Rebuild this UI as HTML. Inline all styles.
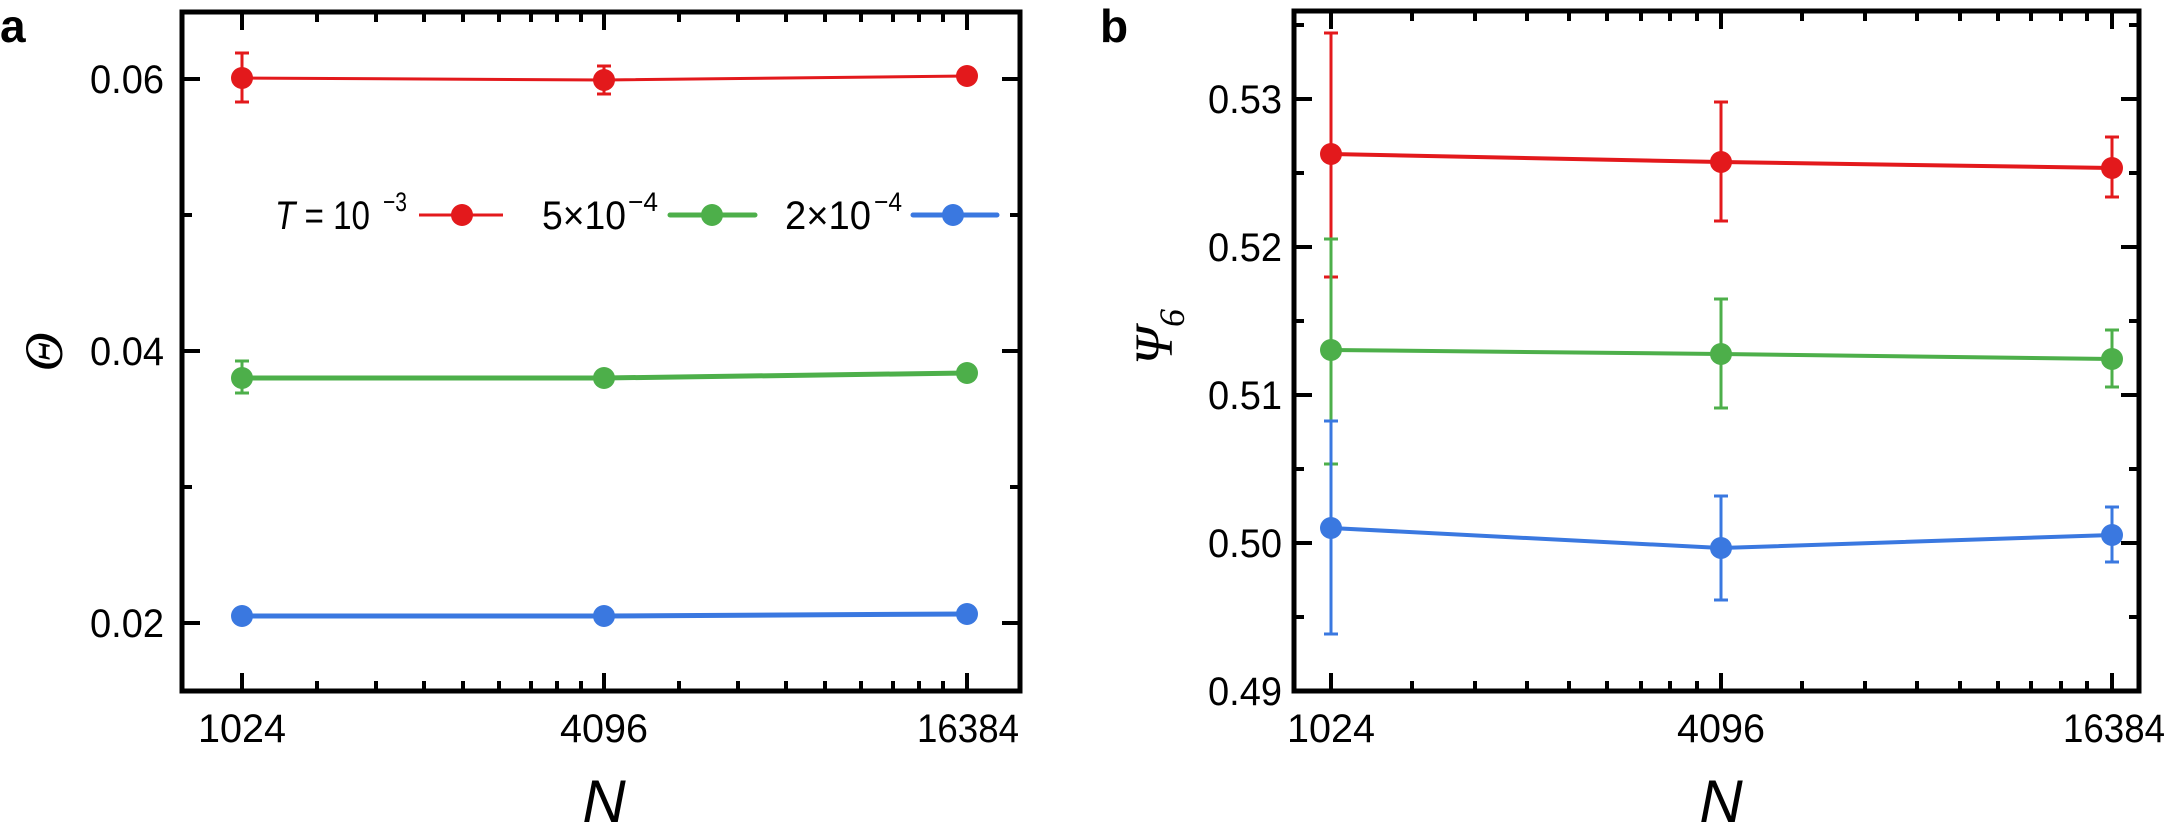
<!DOCTYPE html>
<html><head><meta charset="utf-8"><style>
html,body{margin:0;padding:0;background:#fff;}
svg{display:block;font-family:"Liberation Sans",sans-serif;}
</style></head><body>
<svg width="2167" height="826" viewBox="0 0 2167 826" xmlns="http://www.w3.org/2000/svg">
<!-- Panel a -->
<text x="0" y="42" font-size="46" font-weight="bold">a</text>
<rect x="182" y="12" width="838" height="679" fill="none" stroke="#000" stroke-width="5"/>
<g stroke="#000" stroke-width="4">
<line x1="182" y1="79" x2="200" y2="79"/><line x1="1020" y1="79" x2="1002" y2="79"/>
<line x1="182" y1="351" x2="200" y2="351"/><line x1="1020" y1="351" x2="1002" y2="351"/>
<line x1="182" y1="623" x2="200" y2="623"/><line x1="1020" y1="623" x2="1002" y2="623"/>
<line x1="182" y1="215" x2="192" y2="215"/><line x1="1020" y1="215" x2="1010" y2="215"/>
<line x1="182" y1="487" x2="192" y2="487"/><line x1="1020" y1="487" x2="1010" y2="487"/>
</g>
<g font-size="40">
<text x="90" y="93" textLength="74" lengthAdjust="spacingAndGlyphs">0.06</text>
<text x="90" y="365" textLength="74" lengthAdjust="spacingAndGlyphs">0.04</text>
<text x="90" y="637" textLength="74" lengthAdjust="spacingAndGlyphs">0.02</text>
<text x="198" y="742" textLength="88" lengthAdjust="spacingAndGlyphs">1024</text>
<text x="560" y="742" textLength="88" lengthAdjust="spacingAndGlyphs">4096</text>
<text x="917" y="742" textLength="102" lengthAdjust="spacingAndGlyphs">16384</text>
</g>
<text x="604" y="822" font-size="60" font-style="italic" text-anchor="middle">N</text>
<text transform="translate(62,352) rotate(-90)" font-size="54" font-style="italic" font-family="Liberation Serif, serif" text-anchor="middle">Θ</text>

<g stroke="#e3191c" fill="#e3191c">
<polyline points="242,78 604,80 967,76" fill="none" stroke-width="3"/>
<line x1="242" y1="53" x2="242" y2="102" stroke-width="3"/><line x1="235" y1="53" x2="249" y2="53" stroke-width="3"/><line x1="235" y1="102" x2="249" y2="102" stroke-width="3"/>
<line x1="604" y1="66" x2="604" y2="94" stroke-width="3"/><line x1="597" y1="66" x2="611" y2="66" stroke-width="3"/><line x1="597" y1="94" x2="611" y2="94" stroke-width="3"/>
<circle cx="242" cy="78" r="11" stroke="none"/><circle cx="604" cy="80" r="11" stroke="none"/><circle cx="967" cy="76" r="11" stroke="none"/>
</g>
<g stroke="#4daf4a" fill="#4daf4a">
<polyline points="242,378 604,378 967,373" fill="none" stroke-width="5"/>
<line x1="242" y1="361" x2="242" y2="393" stroke-width="3"/><line x1="235" y1="361" x2="249" y2="361" stroke-width="3"/><line x1="235" y1="393" x2="249" y2="393" stroke-width="3"/>
<circle cx="242" cy="378" r="11" stroke="none"/><circle cx="604" cy="378" r="11" stroke="none"/><circle cx="967" cy="373" r="11" stroke="none"/>
</g>
<g stroke="#3a78e0" fill="#3a78e0">
<polyline points="242,616 604,616 967,614" fill="none" stroke-width="5"/>
<circle cx="242" cy="616" r="11" stroke="none"/><circle cx="604" cy="616" r="11" stroke="none"/><circle cx="967" cy="614" r="11" stroke="none"/>
</g>
<!-- legend -->
<g font-size="40">
<text x="275" y="229" textLength="95" lengthAdjust="spacingAndGlyphs"><tspan font-style="italic">T</tspan> = 10</text>
<text x="383" y="211" font-size="27" textLength="24" lengthAdjust="spacingAndGlyphs">−3</text>
<text x="542" y="229" textLength="84" lengthAdjust="spacingAndGlyphs">5×10</text>
<text x="628" y="211" font-size="27" textLength="30" lengthAdjust="spacingAndGlyphs">−4</text>
<text x="785" y="229" textLength="86" lengthAdjust="spacingAndGlyphs">2×10</text>
<text x="874" y="211" font-size="27" textLength="28" lengthAdjust="spacingAndGlyphs">−4</text>
</g>
<line x1="419" y1="215" x2="503" y2="215" stroke="#e3191c" stroke-width="3"/><circle cx="462" cy="215" r="11" fill="#e3191c"/>
<line x1="670" y1="215" x2="755" y2="215" stroke="#4daf4a" stroke-width="5" stroke-linecap="round"/><circle cx="712" cy="215" r="11" fill="#4daf4a"/>
<line x1="913" y1="215" x2="997" y2="215" stroke="#3a78e0" stroke-width="5" stroke-linecap="round"/><circle cx="953" cy="215" r="11" fill="#3a78e0"/>

<!-- Panel b -->
<text x="1100" y="42" font-size="46" font-weight="bold">b</text>
<rect x="1294" y="11" width="845" height="680" fill="none" stroke="#000" stroke-width="5"/>
<g stroke="#000" stroke-width="4">
<line x1="1294" y1="99" x2="1312" y2="99"/><line x1="2139" y1="99" x2="2121" y2="99"/>
<line x1="1294" y1="247" x2="1312" y2="247"/><line x1="2139" y1="247" x2="2121" y2="247"/>
<line x1="1294" y1="395" x2="1312" y2="395"/><line x1="2139" y1="395" x2="2121" y2="395"/>
<line x1="1294" y1="543" x2="1312" y2="543"/><line x1="2139" y1="543" x2="2121" y2="543"/>
<line x1="1294" y1="25" x2="1304" y2="25"/><line x1="2139" y1="25" x2="2129" y2="25"/>
<line x1="1294" y1="173" x2="1304" y2="173"/><line x1="2139" y1="173" x2="2129" y2="173"/>
<line x1="1294" y1="321" x2="1304" y2="321"/><line x1="2139" y1="321" x2="2129" y2="321"/>
<line x1="1294" y1="469" x2="1304" y2="469"/><line x1="2139" y1="469" x2="2129" y2="469"/>
<line x1="1294" y1="617" x2="1304" y2="617"/><line x1="2139" y1="617" x2="2129" y2="617"/>
</g>
<g font-size="40">
<text x="1208" y="113" textLength="74" lengthAdjust="spacingAndGlyphs">0.53</text>
<text x="1208" y="261" textLength="74" lengthAdjust="spacingAndGlyphs">0.52</text>
<text x="1208" y="409" textLength="74" lengthAdjust="spacingAndGlyphs">0.51</text>
<text x="1208" y="557" textLength="74" lengthAdjust="spacingAndGlyphs">0.50</text>
<text x="1208" y="705" textLength="74" lengthAdjust="spacingAndGlyphs">0.49</text>
<text x="1287" y="742" textLength="88" lengthAdjust="spacingAndGlyphs">1024</text>
<text x="1677" y="742" textLength="88" lengthAdjust="spacingAndGlyphs">4096</text>
<text x="2063" y="742" textLength="102" lengthAdjust="spacingAndGlyphs">16384</text>
</g>
<text x="1721" y="822" font-size="60" font-style="italic" text-anchor="middle">N</text>
<text transform="translate(1172,337) rotate(-90)" font-size="54" font-style="italic" font-family="Liberation Serif, serif" text-anchor="middle">Ψ<tspan font-size="36" dy="12">6</tspan></text>

<g stroke="#e3191c" fill="#e3191c" stroke-width="3">
<polyline points="1331,154 1721,162 2112,168" fill="none" stroke-width="4"/>
<line x1="1331" y1="33" x2="1331" y2="277"/><line x1="1324" y1="33" x2="1338" y2="33"/><line x1="1324" y1="277" x2="1338" y2="277"/>
<line x1="1721" y1="102" x2="1721" y2="221"/><line x1="1714" y1="102" x2="1728" y2="102"/><line x1="1714" y1="221" x2="1728" y2="221"/>
<line x1="2112" y1="137" x2="2112" y2="197"/><line x1="2105" y1="137" x2="2119" y2="137"/><line x1="2105" y1="197" x2="2119" y2="197"/>
<circle cx="1331" cy="154" r="11" stroke="none"/><circle cx="1721" cy="162" r="11" stroke="none"/><circle cx="2112" cy="168" r="11" stroke="none"/>
</g>
<g stroke="#4daf4a" fill="#4daf4a" stroke-width="3">
<polyline points="1331,350 1721,354 2112,359" fill="none" stroke-width="4"/>
<line x1="1331" y1="239" x2="1331" y2="464"/><line x1="1324" y1="239" x2="1338" y2="239"/><line x1="1324" y1="464" x2="1338" y2="464"/>
<line x1="1721" y1="299" x2="1721" y2="408"/><line x1="1714" y1="299" x2="1728" y2="299"/><line x1="1714" y1="408" x2="1728" y2="408"/>
<line x1="2112" y1="330" x2="2112" y2="387"/><line x1="2105" y1="330" x2="2119" y2="330"/><line x1="2105" y1="387" x2="2119" y2="387"/>
<circle cx="1331" cy="350" r="11" stroke="none"/><circle cx="1721" cy="354" r="11" stroke="none"/><circle cx="2112" cy="359" r="11" stroke="none"/>
</g>
<g stroke="#3a78e0" fill="#3a78e0" stroke-width="3">
<polyline points="1331,528 1721,548 2112,535" fill="none" stroke-width="4"/>
<line x1="1331" y1="421" x2="1331" y2="634"/><line x1="1324" y1="421" x2="1338" y2="421"/><line x1="1324" y1="634" x2="1338" y2="634"/>
<line x1="1721" y1="496" x2="1721" y2="600"/><line x1="1714" y1="496" x2="1728" y2="496"/><line x1="1714" y1="600" x2="1728" y2="600"/>
<line x1="2112" y1="507" x2="2112" y2="562"/><line x1="2105" y1="507" x2="2119" y2="507"/><line x1="2105" y1="562" x2="2119" y2="562"/>
<circle cx="1331" cy="528" r="11" stroke="none"/><circle cx="1721" cy="548" r="11" stroke="none"/><circle cx="2112" cy="535" r="11" stroke="none"/>
</g>

<g stroke="#000" stroke-width="4">
<path d="
M242,691 v-18 M242,12 v18 M604,691 v-18 M604,12 v18 M967,691 v-18 M967,12 v18
M317,691 v-10 M317,12 v10 M376,691 v-10 M376,12 v10 M424,691 v-10 M424,12 v10 M463,691 v-10 M463,12 v10 M499,691 v-10 M499,12 v10 M531,691 v-10 M531,12 v10 M557,691 v-10 M557,12 v10 M581,691 v-10 M581,12 v10
M679,691 v-10 M679,12 v10 M738,691 v-10 M738,12 v10 M786,691 v-10 M786,12 v10 M825,691 v-10 M825,12 v10 M861,691 v-10 M861,12 v10 M893,691 v-10 M893,12 v10 M919,691 v-10 M919,12 v10 M943,691 v-10 M943,12 v10
M1331,691 v-18 M1331,11 v18 M1721,691 v-18 M1721,11 v18 M2112,691 v-18 M2112,11 v18
M1412,691 v-10 M1412,11 v10 M1475,691 v-10 M1475,11 v10 M1527,691 v-10 M1527,11 v10 M1569,691 v-10 M1569,11 v10 M1607,691 v-10 M1607,11 v10 M1641,691 v-10 M1641,11 v10 M1670,691 v-10 M1670,11 v10 M1697,691 v-10 M1697,11 v10
M1802,691 v-10 M1802,11 v10 M1865,691 v-10 M1865,11 v10 M1917,691 v-10 M1917,11 v10 M1960,691 v-10 M1960,11 v10 M1998,691 v-10 M1998,11 v10 M2031,691 v-10 M2031,11 v10 M2061,691 v-10 M2061,11 v10 M2087,691 v-10 M2087,11 v10
"/>
</g>
</svg>
</body></html>
